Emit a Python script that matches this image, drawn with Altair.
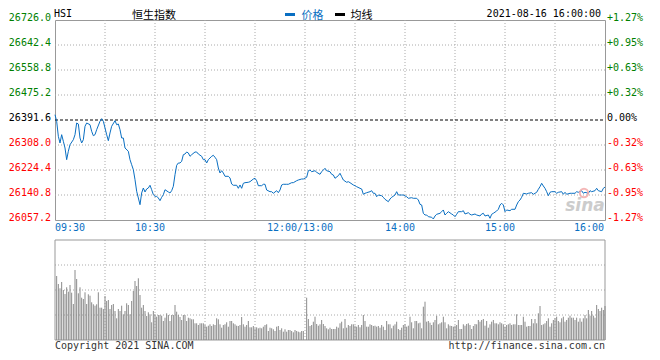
import altair as alt
import pandas as pd

# ---------------- data ----------------
# minutes since 09:30 (lunch break removed: 12:00 and 13:00 share minute 150)
price_min = [0, 1, 2, 3, 4, 5, 6, 7, 8, 9, 11, 12, 13, 14, 15, 16, 17, 18, 19, 21,
             22, 23, 24, 25, 27, 28, 29, 30, 31, 32, 33, 34, 36, 37, 38, 39, 40, 41, 42, 44,
             45, 46, 47, 48, 49, 50, 51, 52, 53, 54, 55, 56, 57, 58, 59, 60, 61, 62, 63, 64,
             65, 66, 68, 69, 70, 71, 72, 73, 74, 75, 76, 77, 78, 79, 80, 81, 82, 84, 85, 86,
             88, 89, 90, 91, 92, 94, 95, 96, 97, 98, 99, 100, 101, 102, 104, 105, 106, 107, 109, 110,
             111, 112, 113, 114, 116, 117, 119, 120, 121, 122, 124, 125, 126, 127, 129, 130, 131, 133, 134, 135,
             136, 137, 139, 140, 142, 143, 145, 146, 148, 149, 151, 152, 153, 154, 156, 157, 159, 160, 161, 162,
             163, 165, 166, 167, 168, 170, 171, 172, 173, 175, 176, 177, 179, 180, 181, 183, 184, 185, 186, 187,
             189, 190, 191, 192, 193, 194, 196, 197, 198, 200, 201, 202, 204, 205, 206, 208, 209, 211, 212, 214,
             215, 217, 218, 219, 220, 221, 222, 223, 224, 226, 227, 228, 229, 231, 232, 233, 234, 235, 236, 238,
             239, 240, 241, 242, 244, 245, 246, 248, 249, 250, 252, 253, 255, 256, 257, 258, 260, 261, 262, 263,
             265, 266, 267, 268, 269, 270, 271, 273, 274, 276, 277, 278, 279, 280, 281, 283, 284, 286, 287, 289,
             290, 291, 292, 293, 294, 295, 296, 297, 298, 300, 301, 302, 304, 305, 306, 307, 309, 310, 312, 313,
             314, 316, 317, 318, 320, 321, 322, 324, 325, 326, 328, 329, 330]
price_val = [26409.3, 26387.3, 26337.1, 26314.7, 26342.5, 26320.4, 26298.0, 26258.9, 26287.0, 26309.0,
             26325.7, 26342.5, 26381.6, 26378.2, 26331.4, 26314.7, 26325.7, 26370.6, 26381.6, 26375.9,
             26353.8, 26339.1, 26342.5, 26359.2, 26387.3, 26396.0, 26387.3, 26364.9, 26342.5, 26322.4,
             26348.2, 26370.6, 26389.3, 26375.9, 26378.2, 26359.2, 26331.4, 26331.4, 26298.0, 26287.0,
             26258.9, 26242.1, 26225.4, 26192.0, 26153.2, 26130.8, 26108.4, 26147.5, 26164.2, 26150.9,
             26160.9, 26164.2, 26173.3, 26158.5, 26141.8, 26136.5, 26136.5, 26130.8, 26121.8, 26133.1,
             26141.8, 26158.5, 26150.9, 26147.5, 26155.2, 26169.9, 26208.7, 26240.1, 26247.8, 26247.8,
             26253.5, 26275.6, 26277.9, 26284.6, 26281.3, 26270.2, 26275.6, 26284.6, 26284.6, 26277.9,
             26270.2, 26258.9, 26258.9, 26247.8, 26258.9, 26270.2, 26273.6, 26266.9, 26258.9, 26231.1,
             26214.4, 26222.1, 26214.4, 26203.3, 26203.3, 26197.7, 26177.6, 26173.3, 26173.3, 26163.2,
             26174.3, 26163.2, 26179.9, 26182.0, 26183.3, 26185.3, 26194.3, 26196.7, 26188.6, 26171.9,
             26171.9, 26176.6, 26176.6, 26157.5, 26151.9, 26151.9, 26146.5, 26155.2, 26148.5, 26157.5,
             26174.3, 26176.6, 26176.6, 26176.6, 26182.0, 26182.0, 26188.6, 26191.0, 26194.3, 26194.3,
             26200.0, 26222.1, 26224.4, 26218.7, 26222.1, 26216.7, 26210.0, 26218.7, 26224.4, 26230.1,
             26222.1, 26218.7, 26210.0, 26207.7, 26196.7, 26205.4, 26213.4, 26202.0, 26191.0, 26183.3,
             26185.3, 26182.0, 26174.3, 26171.9, 26168.6, 26163.2, 26160.9, 26143.2, 26146.5, 26148.5,
             26151.9, 26155.2, 26146.5, 26146.5, 26135.1, 26140.8, 26138.5, 26133.1, 26126.4, 26118.4,
             26127.4, 26133.1, 26140.8, 26151.9, 26140.8, 26140.8, 26140.8, 26135.1, 26129.8, 26131.8,
             26129.8, 26129.8, 26124.1, 26109.7, 26107.4, 26079.6, 26073.9, 26073.9, 26068.3, 26066.3,
             26060.6, 26070.6, 26076.3, 26079.6, 26085.0, 26090.7, 26073.9, 26079.6, 26085.0, 26077.3,
             26073.9, 26068.3, 26076.3, 26085.0, 26085.0, 26088.3, 26077.3, 26081.6, 26076.3, 26073.9,
             26077.3, 26073.9, 26070.6, 26077.3, 26079.6, 26070.6, 26073.9, 26062.9, 26076.3, 26079.6,
             26087.3, 26093.0, 26107.4, 26113.1, 26107.4, 26085.0, 26090.7, 26088.3, 26093.0, 26093.0,
             26107.4, 26118.4, 26124.1, 26133.1, 26146.5, 26144.2, 26146.5, 26148.5, 26143.2, 26149.8,
             26159.9, 26168.6, 26179.9, 26170.9, 26163.2, 26151.9, 26138.5, 26149.8, 26151.9, 26151.9,
             26146.5, 26149.8, 26151.9, 26143.2, 26149.8, 26143.2, 26146.5, 26146.5, 26146.5, 26151.9,
             26149.8, 26155.2, 26146.5, 26149.8, 26146.5, 26155.2, 26151.9, 26155.2, 26163.2, 26155.2,
             26151.9, 26163.2, 26167.2]

# per-minute volume (relative units, panel top = 100); morning 09:31-11:59, afternoon 13:01-16:00
vol_am = [64, 56, 51.7, 58, 50, 46, 52.7, 48.3, 55, 47.3,
          36, 70, 61, 46.7, 52.7, 42.3, 41, 47.7, 36, 45.7,
          44.3, 37.7, 35.7, 34.3, 35.7, 47.7, 32.3, 32.3, 31, 44,
          39, 40, 31, 35, 36, 29, 21.7, 31, 29, 34.3,
          25.7, 29, 36.7, 35, 25.7, 39, 49, 59, 54, 61.7,
          45, 32.3, 35, 29, 24, 27.7, 25.7, 17.7, 29, 25.7,
          23.3, 25, 25, 24.3, 19, 22.3, 26.7, 25, 19, 25,
          25, 35, 28.3, 25, 23, 20, 25, 25, 19, 22.3,
          21.7, 20.7, 20.7, 16.7, 16.7, 15, 16.7, 16.7, 16.7, 15,
          13.3, 14.3, 15.7, 14, 15.7, 15, 21.7, 20.7, 15.7, 12.3,
          15, 15.7, 17.7, 13.3, 19, 19, 16.7, 15.7, 14.3,
          14, 15, 23, 15.7, 13.3, 15, 19, 12.7, 12.7, 14,
          11.7, 12.7, 11.7, 12.3, 11.7, 13.3, 15, 15.7, 9, 12.3,
          11.7, 10.7, 9, 13.3, 14, 10, 11.7, 8.3, 10.7, 8.3,
          10, 10, 9, 7.7, 10, 9, 8.3, 7.7, 9, 9]
vol_pm = [42.3, 21, 14, 15, 18.3, 23.3, 16, 14.3, 15.7, 20,
          16, 14, 11.7, 10.7, 12.3, 11, 11, 11, 13.3, 12.3,
          16.7, 18.3, 11.7, 21, 12.3, 15, 14, 15.7, 15.7, 14.3,
          13.3, 15, 12.7, 15, 25, 19, 13.3, 13.3, 15.7, 15,
          14, 14.3, 13.3, 14, 12.3, 15, 13.3, 10, 19, 15.7,
          15.7, 11.7, 14.3, 15.7, 18.3, 11, 10, 12.3, 15, 15.7,
          13.3, 14.3, 23.3, 17.7, 11.7, 19, 19, 16.7,
          17.3, 11.7, 33.3, 38.3, 18.3, 19, 17.3, 15, 17.7, 20,
          24.3, 15.7, 16.7, 17.7, 23.3, 17.7, 11.7, 15.7, 14.3, 14,
          13.3, 14.3, 15, 20, 11, 11, 15.7, 14.3, 16, 16.7,
          15, 11, 14, 16, 15.7, 20, 18.3, 20, 21, 14.3,
          19, 12.3, 15.7, 18.3, 20, 16.7, 16.7, 15.7, 17.7, 16.7,
          15.7, 13.3, 15, 15.7, 16.7, 15, 15.7, 15.7, 25.7, 15,
          15, 15, 23.3, 18.3, 13.3, 14, 14, 21, 16.7, 21,
          16.7, 26.7, 34, 15, 15.7, 16.7, 19, 21.7, 13.3, 16.7,
          20, 21.7, 23.3, 19, 17.7, 21.7, 23.3, 18.3, 20, 22.3,
          24.3, 22.3, 22.3, 20, 22.3, 18.3, 21.7, 18.3, 21.7, 25,
          21.7, 30, 24.3, 29, 24.3, 22.3, 35, 31, 29, 32.3,
          30, 34]

prev_close = 26391.6
price_ticks = [26726.0, 26642.4, 26558.8, 26475.2, 26391.6, 26308.0, 26224.4, 26140.8, 26057.2]
price_labels = ["26726.0", "26642.4", "26558.8", "26475.2", "26391.6", "26308.0", "26224.4", "26140.8", "26057.2"]
pct_labels = ["+1.27%", "+0.95%", "+0.63%", "+0.32%", "0.00%", "-0.32%", "-0.63%", "-0.95%", "-1.27%"]
tick_side = ["up", "up", "up", "up", "flat", "down", "down", "down", "down"]
inner_price_grid = [26642.4, 26558.8, 26475.2, 26308.0, 26224.4, 26140.8]
grid_minutes = [30, 60, 90, 120, 150, 180, 210, 240, 270, 300]
time_ticks = [0, 60, 150, 210, 270, 330]
time_labels = ["09:30", "10:30", "12:00/13:00", "14:00", "15:00", "16:00"]
vol_grid = [25, 50, 75]

# ---------------- frames ----------------
line_df = pd.DataFrame({"minute": price_min, "price": price_val})
vol_minutes = list(range(1, 1 + len(vol_am))) + list(range(151, 151 + len(vol_pm)))
vol_df = pd.DataFrame({"minute": vol_minutes, "vol": vol_am + vol_pm})
tick_df = pd.DataFrame({"price": price_ticks, "plabel": price_labels, "pct": pct_labels, "side": tick_side})
hgrid_df = pd.DataFrame({"price": inner_price_grid})
vgrid_df = pd.DataFrame({"minute": grid_minutes})
time_df = pd.DataFrame({"minute": time_ticks, "label": time_labels})
volgrid_df = pd.DataFrame({"vol": vol_grid})
prev_df = pd.DataFrame({"price": [prev_close]})
one = pd.DataFrame({"a": [0]})

W, H = 550, 200
MONO = "DejaVu Sans Mono"
CJK = "DejaVu Sans, Noto Sans CJK SC"
BLUE = "#0a6fc2"
GRID = "#aaaaaa"

XS = alt.Scale(domain=[0, 330], nice=False, zero=False)
def PS():
    return alt.Scale(domain=[26057.2, 26726.0], nice=False, zero=False)
def VS():
    return alt.Scale(domain=[0, 100], range=[320, 220], nice=False, zero=False)

side_color = alt.Color("side:N", scale=alt.Scale(domain=["up", "flat", "down"],
                                                  range=["#008000", "#000000", "#ff0000"]), legend=None)

layers = []

# vertical grid (price panel + volume panel)
layers.append(alt.Chart(vgrid_df).mark_rule(color=GRID, strokeDash=[1, 2], strokeWidth=1).encode(
    x=alt.X("minute:Q", scale=XS, axis=None), y=alt.value(0), y2=alt.value(H)))
layers.append(alt.Chart(vgrid_df).mark_rule(color=GRID, strokeDash=[1, 2], strokeWidth=1).encode(
    x=alt.X("minute:Q", scale=XS, axis=None), y=alt.value(220), y2=alt.value(320)))
# horizontal grid
layers.append(alt.Chart(hgrid_df).mark_rule(color=GRID, strokeDash=[1, 2], strokeWidth=1).encode(
    y=alt.Y("price:Q", scale=PS(), axis=None), x=alt.value(0), x2=alt.value(W)))
layers.append(alt.Chart(volgrid_df).mark_rule(color=GRID, strokeDash=[1, 2], strokeWidth=1).encode(
    y=alt.Y("vol:Q", scale=VS(), axis=None), x=alt.value(0), x2=alt.value(W)))
# previous close
layers.append(alt.Chart(prev_df).mark_rule(color="#000000", strokeDash=[3, 2], strokeWidth=1).encode(
    y=alt.Y("price:Q", scale=PS(), axis=None), x=alt.value(0), x2=alt.value(W)))
# volume panel frame
layers.append(alt.Chart(one).mark_rect(fill=None, stroke="#999999", strokeWidth=1).encode(
    x=alt.value(0), x2=alt.value(W), y=alt.value(220), y2=alt.value(320)))
# volume bars
layers.append(alt.Chart(vol_df).mark_rule(color="#8a8a8a", strokeWidth=1).encode(
    x=alt.X("minute:Q", scale=XS, axis=None),
    y=alt.Y("vol:Q", scale=VS(), axis=None), y2=alt.datum(0)))
# price line
layers.append(alt.Chart(line_df).mark_line(color=BLUE, strokeWidth=1, interpolate="linear").encode(
    x=alt.X("minute:Q", scale=XS, axis=None),
    y=alt.Y("price:Q", scale=PS(), axis=None)))

# left / right tick labels
layers.append(alt.Chart(tick_df).mark_text(font=MONO, fontSize=10, align="right", baseline="middle", dy=-2).encode(
    y=alt.Y("price:Q", scale=PS(), axis=None), x=alt.value(-4), text="plabel:N", color=side_color))
layers.append(alt.Chart(tick_df).mark_text(font=MONO, fontSize=10, align="left", baseline="middle", dy=-2).encode(
    y=alt.Y("price:Q", scale=PS(), axis=None), x=alt.value(552), text="pct:N", color=side_color))

# time labels
tl_first = time_df.iloc[[0]]
tl_mid = time_df.iloc[1:-1]
tl_last = time_df.iloc[[-1]]
layers.append(alt.Chart(tl_first).mark_text(font=MONO, fontSize=10, align="left", baseline="middle", color=BLUE).encode(
    x=alt.X("minute:Q", scale=XS, axis=None), y=alt.value(208), text="label:N"))
layers.append(alt.Chart(tl_mid).mark_text(font=MONO, fontSize=10, align="center", baseline="middle", color=BLUE, dx=-5).encode(
    x=alt.X("minute:Q", scale=XS, axis=None), y=alt.value(208), text="label:N"))
layers.append(alt.Chart(tl_last).mark_text(font=MONO, fontSize=10, align="right", baseline="middle", color=BLUE, dx=-1).encode(
    x=alt.X("minute:Q", scale=XS, axis=None), y=alt.value(208), text="label:N"))

# header
def txt(s, x, y, align="left", font=MONO, size=10, color="#000000", **kw):
    return alt.Chart(one).mark_text(text=s, font=font, fontSize=size, align=align, baseline="middle",
                                    color=color, **kw).encode(x=alt.value(x), y=alt.value(y))

HY = -6
CY = -4.5
layers.append(txt("HSI", -1, HY - 0.5))
layers.append(txt("恒生指数", 99, CY, align="center", font=CJK, size=11))
layers.append(alt.Chart(one).mark_rule(color=BLUE, strokeWidth=3).encode(
    x=alt.value(230), x2=alt.value(240), y=alt.value(HY + 0.5)))
layers.append(txt("价格", 246.5, CY, font=CJK, size=11, color=BLUE))
layers.append(alt.Chart(one).mark_rule(color="#000000", strokeWidth=3).encode(
    x=alt.value(280), x2=alt.value(290), y=alt.value(HY + 0.5)))
layers.append(txt("均线", 295.5, CY, font=CJK, size=11))
layers.append(txt("2021-08-16 16:00:00", 546, HY - 0.5, align="right"))

# footer
layers.append(txt("Copyright 2021 SINA.COM", 0, 326, color="#333333"))
layers.append(txt("http://finance.sina.com.cn", 550, 326, align="right", color="#333333"))

# watermark
layers.append(alt.Chart(one).mark_point(shape="circle", size=70, filled=False, color="#f2a6a6", strokeWidth=2,
                                        opacity=0.8).encode(x=alt.value(529), y=alt.value(173)))
layers.append(txt("sina", 530, 186, align="center", font="DejaVu Sans", size=17, color="#cccccc",
                  fontStyle="italic", fontWeight="bold"))

chart = alt.layer(*layers).resolve_scale(y="independent", color="independent").properties(
    width=W, height=H,
    autosize=alt.AutoSizeParams(type="none"),
    padding={"left": 47, "top": 12, "right": 47, "bottom": 132},
).configure_view(stroke="#999999", strokeWidth=1)

chart.save("out.html", embed_options={"renderer": "svg", "actions": False})
